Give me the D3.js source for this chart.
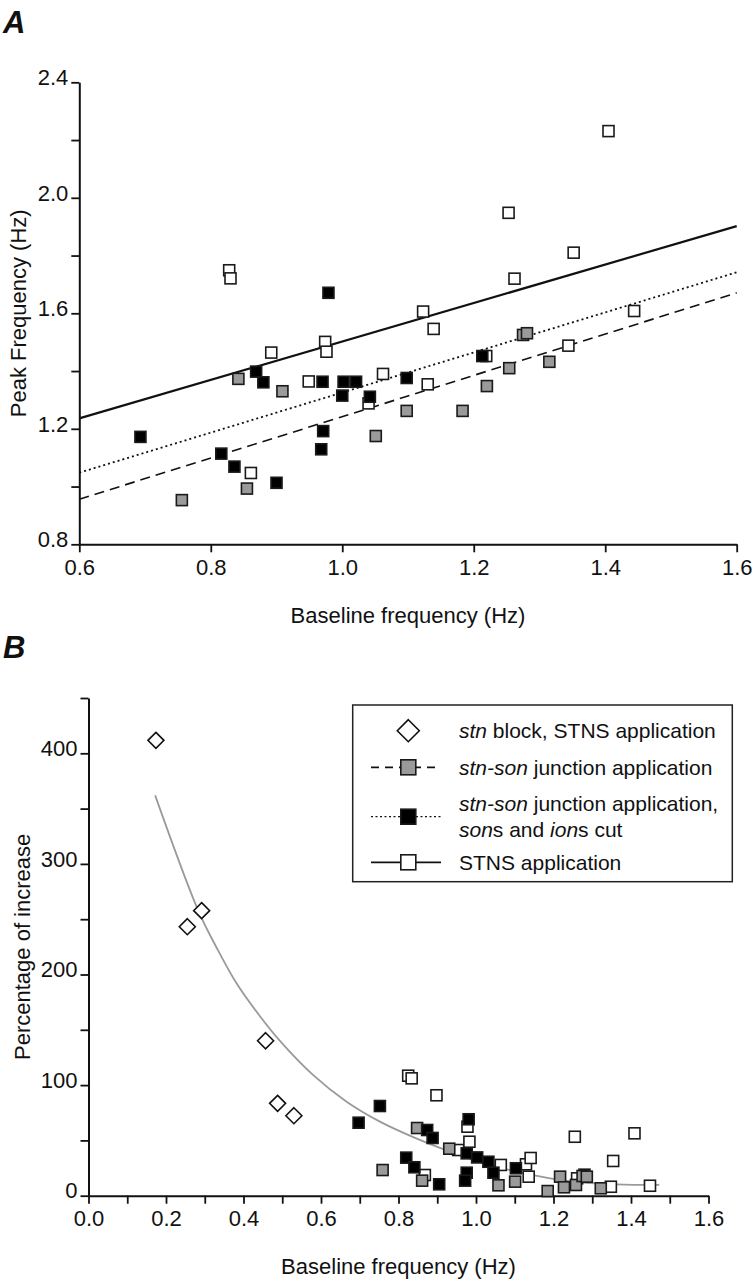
<!DOCTYPE html>
<html>
<head>
<meta charset="utf-8">
<script src="https://cdn.jsdelivr.net/npm/d3@7"></script>
<style>
  html, body { margin: 0; padding: 0; background: #fff; }
  svg { display: block; }
  text { font-family: "Liberation Sans", Arial, Helvetica, sans-serif; fill: #111; }
</style>
</head>
<body>
<svg id="chart" width="754" height="1280"></svg>
<script>
// ---------------- DATA ----------------
// Panel A: baseline frequency (Hz) vs peak frequency (Hz)
const openAX = [0.828, 0.830, 0.892, 0.861, 0.949, 0.974, 0.976, 1.040, 1.062, 1.123, 1.139, 1.130, 1.219, 1.262, 1.253, 1.352, 1.405, 1.344, 1.444];
const openAY = [1.749, 1.721, 1.464, 1.047, 1.364, 1.501, 1.467, 1.288, 1.390, 1.606, 1.546, 1.354, 1.452, 1.720, 1.948, 1.810, 2.231, 1.488, 1.608];
const grayAX = [0.756, 0.855, 0.842, 0.909, 1.051, 1.098, 1.183, 1.220, 1.254, 1.275, 1.281, 1.315];
const grayAY = [0.953, 0.993, 1.373, 1.330, 1.175, 1.262, 1.262, 1.348, 1.410, 1.525, 1.531, 1.432];
const blackAX = [0.693, 0.816, 0.836, 0.900, 0.869, 0.880, 0.970, 0.971, 0.968, 1.002, 1.000, 1.021, 1.042, 1.098, 1.213, 0.979];
const blackAY = [1.172, 1.114, 1.069, 1.013, 1.398, 1.361, 1.363, 1.192, 1.129, 1.363, 1.315, 1.363, 1.311, 1.376, 1.452, 1.671];
// regression lines (values at x = 0.6 and x = 1.6)
const fitX = [0.6, 1.6];
const fitSolidY = [1.236, 1.902];   // STNS application
const fitDottedY = [1.048, 1.742];  // stn-son junction, sons and ions cut
const fitDashedY = [0.956, 1.671];  // stn-son junction application

// Panel B: baseline frequency (Hz) vs percentage of increase
const diamondBX = [0.174, 0.292, 0.255, 0.457, 0.488, 0.530];
const diamondBY = [411.7, 257.7, 243.2, 140.1, 83.5, 72.3];
const openBX = [0.825, 0.834, 0.898, 0.868, 0.954, 0.978, 0.983, 1.064, 1.129, 1.141, 1.136, 1.255, 1.261, 1.280, 1.354, 1.409, 1.348, 1.449];
const openBY = [108.5, 106.1, 90.8, 18.7, 41.3, 62.4, 48.8, 27.8, 28.4, 34.1, 17.2, 53.3, 15.7, 19.0, 31.4, 56.4, 8.1, 9.0];
const grayBX = [0.759, 0.861, 0.848, 0.931, 1.058, 1.101, 1.185, 1.217, 1.227, 1.258, 1.275, 1.286, 1.322];
const grayBY = [23.2, 13.6, 61.2, 42.5, 9.4, 12.7, 4.2, 17.2, 7.6, 9.7, 17.8, 17.2, 6.7];
const blackBX = [0.697, 0.752, 0.874, 0.888, 0.981, 0.976, 1.003, 0.820, 0.841, 0.905, 0.976, 0.972, 1.032, 1.045, 1.103];
const blackBY = [66.0, 81.1, 59.4, 52.2, 69.1, 38.3, 34.6, 34.4, 25.7, 10.3, 20.8, 13.6, 30.7, 20.8, 24.8];
// fitted decay curve
const curveX = [0.172, 0.283, 0.331, 0.382, 0.443, 0.494, 0.580, 0.666, 0.752, 0.838, 0.924, 1.019, 1.105, 1.191, 1.277, 1.363, 1.473];
const curveY = [362, 258, 224, 192, 162, 140, 109, 85, 67, 53, 41, 29.5, 21.7, 15.7, 11.8, 10.3, 9.7];

// ticks
const aXTicks = [0.6, 0.8, 1.0, 1.2, 1.4, 1.6];
const aYTicks = [0.8, 1.0, 1.2, 1.4, 1.6, 1.8, 2.0, 2.2, 2.4];
const aYLabels = [0.8, 1.2, 1.6, 2.0, 2.4];
const bXTicks = [0.0, 0.1, 0.2, 0.3, 0.4, 0.5, 0.6, 0.7, 0.8, 0.9, 1.0, 1.1, 1.2, 1.3, 1.4, 1.5, 1.6];
const bXLabels = [0.0, 0.2, 0.4, 0.6, 0.8, 1.0, 1.2, 1.4, 1.6];
const bYTicks = [0, 50, 100, 150, 200, 250, 300, 350, 400, 450];
const bYLabels = [0, 100, 200, 300, 400];

const legendItems = [
  { sym: "diamond", line: null, lines: [[{t: "stn", i: true}, {t: " block, STNS application"}]] },
  { sym: "gray", line: "dashed", lines: [[{t: "stn-son", i: true}, {t: " junction application"}]] },
  { sym: "black", line: "dotted", lines: [[{t: "stn-son", i: true}, {t: " junction application,"}],
                                          [{t: "son", i: true}, {t: "s and "}, {t: "ion", i: true}, {t: "s cut"}]] },
  { sym: "open", line: "solid", lines: [[{t: "STNS application"}]] }
];

// ---------------- DRAW ----------------
const svg = d3.select("#chart");
const GRAY = "#9a9a9a";
const SQ = 11;
const fmt1 = d3.format(".1f");

function styleAxis(g) {
  g.selectAll("path.domain").attr("stroke", "#111").attr("stroke-width", 2);
  g.selectAll(".tick line").attr("stroke", "#111").attr("stroke-width", 1.8);
  g.selectAll(".tick text").attr("font-size", 22).attr("fill", "#111")
    .attr("font-family", '"Liberation Sans", Arial, sans-serif');
}

function squares(g, xs, ys, fill, x, y, size) {
  g.selectAll(null).data(d3.range(xs.length)).join("rect")
    .attr("x", i => x(xs[i]) - size / 2)
    .attr("y", i => y(ys[i]) - size / 2)
    .attr("width", size).attr("height", size)
    .attr("fill", fill).attr("stroke", "#1a1a1a").attr("stroke-width", 1.6);
}
function diamondPath(cx, cy, r) {
  return `M${cx},${cy - r}L${cx + r},${cy}L${cx},${cy + r}L${cx - r},${cy}Z`;
}

// ===== Panel A =====
const xA = d3.scaleLinear().domain([0.6, 1.6]).range([79.3, 736.7]);
const yA = d3.scaleLinear().domain([0.8, 2.4]).range([544.3, 82.3]);

svg.append("text").attr("x", 3).attr("y", 33).attr("font-size", 31)
  .attr("font-weight", "bold").attr("font-style", "italic").text("A");

const gAx = svg.append("g").attr("transform", `translate(0,${yA(0.8)})`)
  .call(d3.axisBottom(xA).tickValues(aXTicks).tickSize(8).tickSizeOuter(0).tickPadding(7).tickFormat(fmt1));
styleAxis(gAx);
const gAy = svg.append("g").attr("transform", `translate(${xA(0.6)},0)`)
  .call(d3.axisLeft(yA).tickValues(aYTicks).tickSize(8).tickSizeOuter(0).tickPadding(3)
    .tickFormat(d => aYLabels.some(v => Math.abs(v - d) < 1e-9) ? fmt1(d) : ""));
styleAxis(gAy);
gAy.selectAll(".tick text").attr("dy", "0.1em");

// regression lines
const lineA = d3.line().x(d => xA(d[0])).y(d => yA(d[1]));
svg.append("path").datum(fitX.map((v, i) => [v, fitDashedY[i]])).attr("d", lineA)
  .attr("fill", "none").attr("stroke", "#111").attr("stroke-width", 1.6).attr("stroke-dasharray", "10,6");
svg.append("path").datum(fitX.map((v, i) => [v, fitDottedY[i]])).attr("d", lineA)
  .attr("fill", "none").attr("stroke", "#111").attr("stroke-width", 1.8).attr("stroke-dasharray", "2,3");
svg.append("path").datum(fitX.map((v, i) => [v, fitSolidY[i]])).attr("d", lineA)
  .attr("fill", "none").attr("stroke", "#111").attr("stroke-width", 2.2);

const gAp = svg.append("g");
squares(gAp.append("g"), openAX, openAY, "#fff", xA, yA, SQ);
squares(gAp.append("g"), grayAX, grayAY, GRAY, xA, yA, SQ);
squares(gAp.append("g"), blackAX, blackAY, "#000", xA, yA, SQ);

svg.append("text").attr("x", (xA(0.6) + xA(1.6)) / 2).attr("y", 623).attr("text-anchor", "middle")
  .attr("font-size", 22).text("Baseline frequency (Hz)");
svg.append("text").attr("transform", `translate(26,${yA(1.6)}) rotate(-90)`).attr("text-anchor", "middle")
  .attr("font-size", 22).text("Peak Frequency (Hz)");

// ===== Panel B =====
const xB = d3.scaleLinear().domain([0, 1.6]).range([88.5, 708.5]);
const yB = d3.scaleLinear().domain([0, 450]).range([1195.7, 698]);

svg.append("text").attr("x", 3).attr("y", 658).attr("font-size", 31)
  .attr("font-weight", "bold").attr("font-style", "italic").text("B");

const gBx = svg.append("g").attr("transform", `translate(0,${yB(0)})`)
  .call(d3.axisBottom(xB).tickValues(bXTicks).tickSize(8).tickSizeOuter(0).tickPadding(7)
    .tickFormat(d => bXLabels.some(v => Math.abs(v - d) < 1e-9) ? fmt1(d) : ""));
styleAxis(gBx);
const gBy = svg.append("g").attr("transform", `translate(${xB(0)},0)`)
  .call(d3.axisLeft(yB).tickValues(bYTicks).tickSize(8).tickSizeOuter(0).tickPadding(3)
    .tickFormat(d => bYLabels.includes(d) ? String(d) : ""));
styleAxis(gBy);
gBy.selectAll(".tick text").attr("dy", "0.1em");

// fitted curve
svg.append("path").datum(curveX.map((v, i) => [v, curveY[i]]))
  .attr("d", d3.line().x(d => xB(d[0])).y(d => yB(d[1])).curve(d3.curveCatmullRom.alpha(0.5)))
  .attr("fill", "none").attr("stroke", GRAY).attr("stroke-width", 1.8);

const gBp = svg.append("g");
gBp.selectAll(null).data(d3.range(diamondBX.length)).join("path")
  .attr("d", i => diamondPath(xB(diamondBX[i]), yB(diamondBY[i]), 8))
  .attr("fill", "#fff").attr("stroke", "#111").attr("stroke-width", 1.6);
squares(gBp.append("g"), openBX, openBY, "#fff", xB, yB, SQ);
squares(gBp.append("g"), grayBX, grayBY, GRAY, xB, yB, SQ);
squares(gBp.append("g"), blackBX, blackBY, "#000", xB, yB, SQ);

svg.append("text").attr("x", (xB(0) + xB(1.6)) / 2).attr("y", 1274).attr("text-anchor", "middle")
  .attr("font-size", 22).text("Baseline frequency (Hz)");
svg.append("text").attr("transform", `translate(30,${yB(225)}) rotate(-90)`).attr("text-anchor", "middle")
  .attr("font-size", 22).text("Percentage of increase");

// legend
const leg = svg.append("g");
leg.append("rect").attr("x", 352.7).attr("y", 705).attr("width", 379.6).attr("height", 176.7)
  .attr("fill", "#fff").attr("stroke", "#222").attr("stroke-width", 1.5);
const symX = 408.3, lineX0 = 371, lineX1 = 441, textX = 459;
const rowY = [730.7, 767.3, 816.7, 862.3];
const lineStyles = { dashed: ["1.8", "8,6"], dotted: ["1.3", "2,2.5"], solid: ["1.8", null] };
legendItems.forEach((it, k) => {
  const cy = rowY[k];
  if (it.line) {
    const st = lineStyles[it.line];
    const ln = leg.append("line").attr("x1", lineX0).attr("x2", lineX1).attr("y1", cy).attr("y2", cy)
      .attr("stroke", "#111").attr("stroke-width", st[0]);
    if (st[1]) ln.attr("stroke-dasharray", st[1]);
  }
  if (it.sym === "diamond") {
    leg.append("path").attr("d", diamondPath(symX, cy, 11)).attr("fill", "#fff")
      .attr("stroke", "#111").attr("stroke-width", 1.6);
  } else {
    const fill = it.sym === "gray" ? GRAY : it.sym === "black" ? "#000" : "#fff";
    leg.append("rect").attr("x", symX - 7.5).attr("y", cy - 7.5).attr("width", 15).attr("height", 15)
      .attr("fill", fill).attr("stroke", "#1a1a1a").attr("stroke-width", 1.6);
  }
  const n = it.lines.length;
  it.lines.forEach((parts, j) => {
    const ty = cy + (j - (n - 1) / 2) * 26 + 7.5;
    const t = leg.append("text").attr("x", textX).attr("y", ty).attr("font-size", 21);
    parts.forEach(p => t.append("tspan").attr("font-style", p.i ? "italic" : "normal").text(p.t));
  });
});
</script>
</body>
</html>
